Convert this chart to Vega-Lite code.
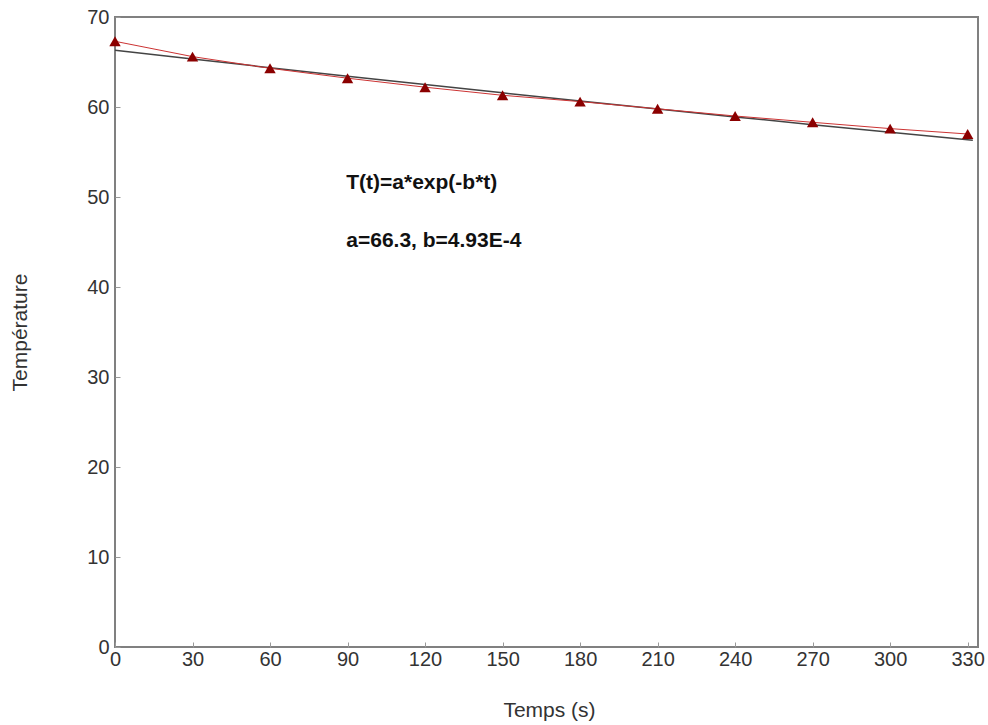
{
  "$schema": "https://vega.github.io/schema/vega-lite/v6.json",
  "width": 863,
  "height": 630,
  "autosize": {"type": "none"},
  "padding": {"left": 115, "top": 17, "right": 10, "bottom": 78},
  "background": "white",
  "config": {
    "view": {"stroke": "#808080", "strokeWidth": 2},
    "font": "Liberation Sans",
    "axis": {
      "grid": false,
      "domain": false,
      "tickSize": -5,
      "tickColor": "#999999",
      "labelFlush": false,
      "labelOverlap": false,
      "labelFont": "Liberation Sans",
      "labelFontSize": 20,
      "labelColor": "#333333",
      "titleFont": "Liberation Sans",
      "titleFontSize": 21,
      "titleFontWeight": "normal",
      "titleColor": "#333333"
    }
  },
  "datasets": {
    "mesures": [
      {"t": 0, "T": 67.3},
      {"t": 30, "T": 65.6},
      {"t": 60, "T": 64.3},
      {"t": 90, "T": 63.2},
      {"t": 120, "T": 62.2},
      {"t": 150, "T": 61.3},
      {"t": 180, "T": 60.6},
      {"t": 210, "T": 59.8},
      {"t": 240, "T": 59.0},
      {"t": 270, "T": 58.3},
      {"t": 300, "T": 57.6},
      {"t": 330, "T": 57.0}
    ],
    "ajustement": [
      {"t": 0, "T": 66.3},
      {"t": 30, "T": 65.33},
      {"t": 60, "T": 64.37},
      {"t": 90, "T": 63.42},
      {"t": 120, "T": 62.49},
      {"t": 150, "T": 61.57},
      {"t": 180, "T": 60.67},
      {"t": 210, "T": 59.78},
      {"t": 240, "T": 58.9},
      {"t": 270, "T": 58.04},
      {"t": 300, "T": 57.19},
      {"t": 330, "T": 56.35},
      {"t": 332, "T": 56.3}
    ],
    "annotations": [
      {"tx": 89.5, "ty": 51.6, "label": "T(t)=a*exp(-b*t)"},
      {"tx": 89.5, "ty": 45.1, "label": "a=66.3, b=4.93E-4"}
    ]
  },
  "layer": [
    {
      "data": {"name": "ajustement"},
      "mark": {"type": "line", "color": "#444444", "strokeWidth": 1.5},
      "encoding": {
        "x": {
          "field": "t", "type": "quantitative",
          "scale": {"domain": [0, 334], "nice": false, "zero": false},
          "axis": {"values": [0,30,60,90,120,150,180,210,240,270,300,330], "title": "Temps (s)", "labelPadding": 7, "titleX": 434, "titleY": 63, "titleBaseline": "middle", "titleAnchor": null}
        },
        "y": {
          "field": "T", "type": "quantitative",
          "scale": {"domain": [0, 70], "nice": false},
          "axis": {"values": [0,10,20,30,40,50,60,70], "title": "Température", "labelPadding": 11, "titleX": -95, "titleY": 315, "titleAngle": -90, "titleAlign": "center", "titleBaseline": "middle"}
        }
      }
    },
    {
      "data": {"name": "mesures"},
      "mark": {"type": "line", "color": "#cc3333", "strokeWidth": 1},
      "encoding": {
        "x": {"field": "t", "type": "quantitative"},
        "y": {"field": "T", "type": "quantitative"}
      }
    },
    {
      "data": {"name": "mesures"},
      "mark": {"type": "point", "shape": "triangle-up", "filled": true, "color": "#8b0000", "size": 130, "opacity": 1},
      "encoding": {
        "x": {"field": "t", "type": "quantitative"},
        "y": {"field": "T", "type": "quantitative"}
      }
    },
    {
      "data": {"name": "annotations"},
      "mark": {"type": "text", "align": "left", "baseline": "middle", "fontSize": 21, "fontWeight": "bold", "color": "#111111", "font": "Liberation Sans"},
      "encoding": {
        "x": {"field": "tx", "type": "quantitative"},
        "y": {"field": "ty", "type": "quantitative"},
        "text": {"field": "label"}
      }
    }
  ]
}
